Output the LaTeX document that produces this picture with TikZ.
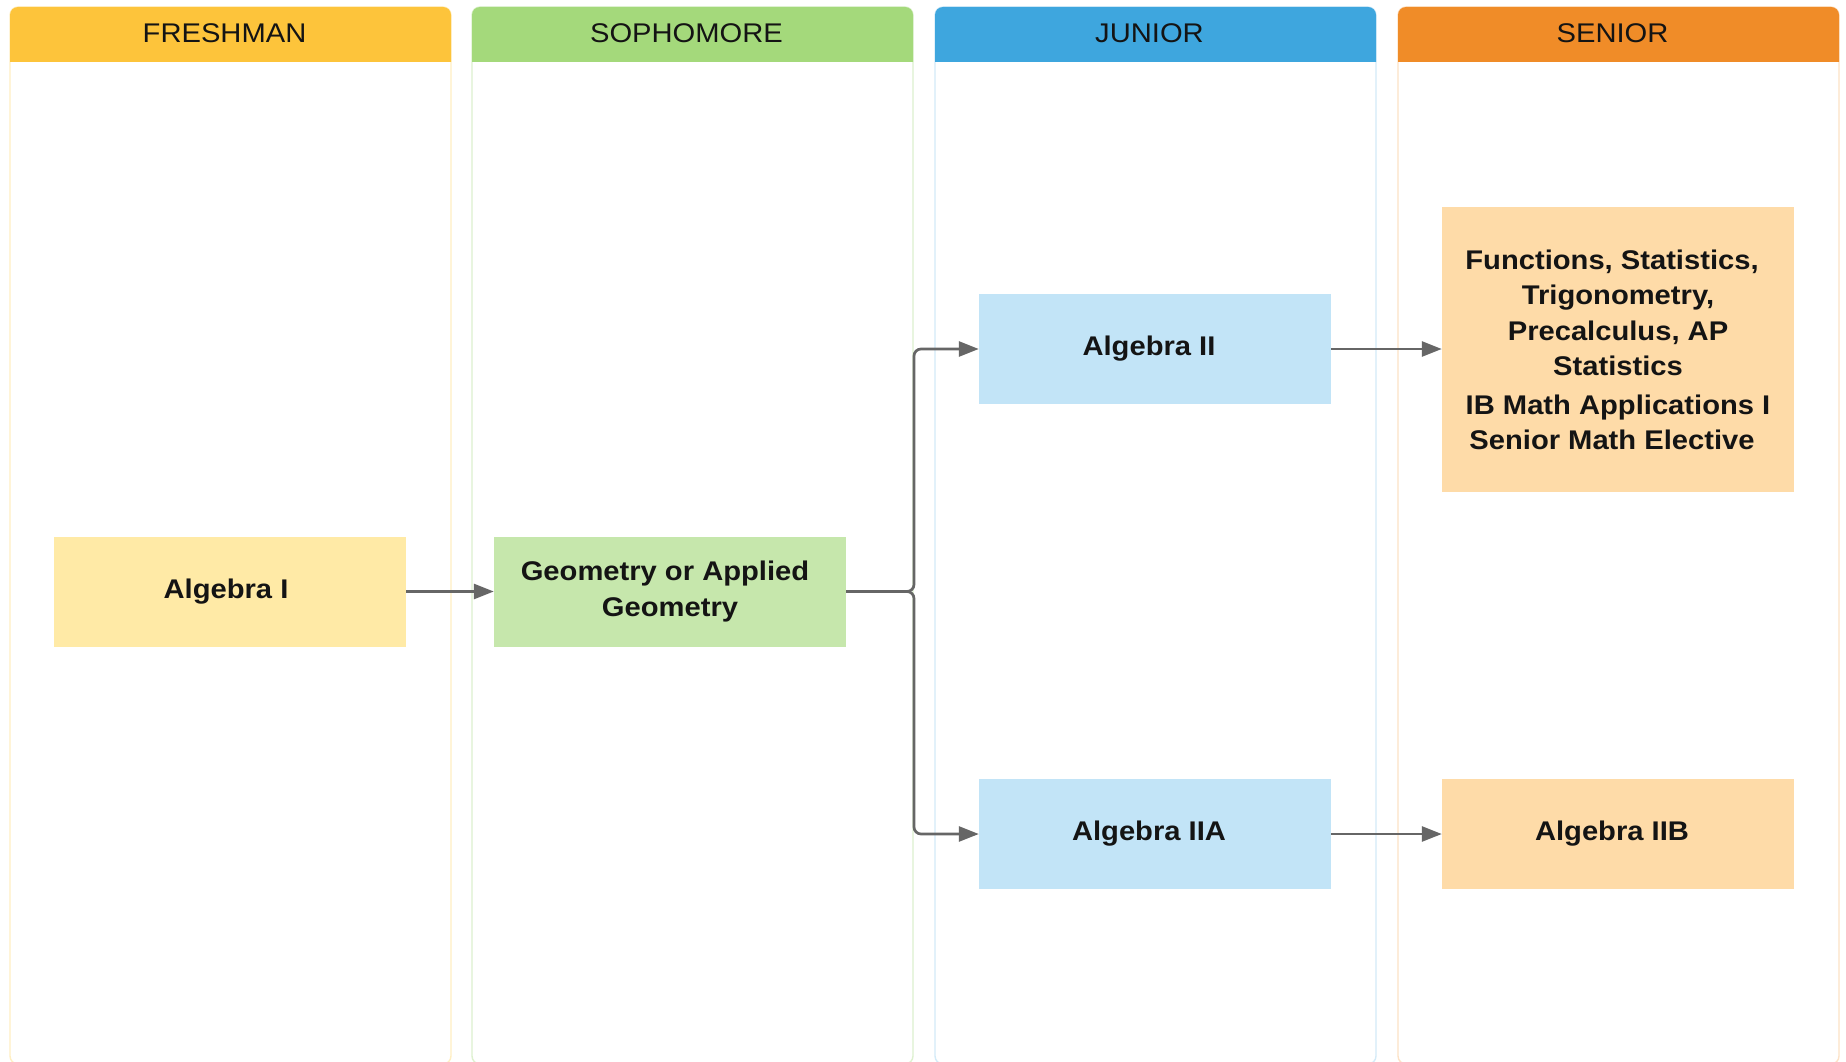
\documentclass[tikz,border=0pt]{standalone}
\usepackage{fontspec}
\setmainfont{Liberation Sans}[FakeStretch=1.08]
\usetikzlibrary{arrows.meta}
\definecolor{hdrF}{HTML}{FDC43B}
\definecolor{hdrS}{HTML}{A4D97B}
\definecolor{hdrJ}{HTML}{3EA6DE}
\definecolor{hdrN}{HTML}{F08C28}
\definecolor{lnF}{HTML}{FFEFC2}
\definecolor{lnS}{HTML}{DDF1CE}
\definecolor{lnJ}{HTML}{D3EBF8}
\definecolor{lnN}{HTML}{FDE2C6}
\definecolor{boxF}{HTML}{FFEAA6}
\definecolor{boxS}{HTML}{C6E7AC}
\definecolor{boxJ}{HTML}{C2E4F7}
\definecolor{boxN}{HTML}{FEDBA8}
\definecolor{arrowgray}{HTML}{666666}
\definecolor{txt}{HTML}{141414}
\tikzset{
  lanebox/.style={line width=1.4pt, rounded corners=8pt},
  hdrtxt/.style={font=\fontsize{27}{32}\selectfont, text=txt, inner sep=0pt,
    minimum width=441pt, minimum height=55pt},
  course/.style={font=\bfseries\fontsize{27}{35.5}\selectfont, text=txt,
    minimum width=352pt, minimum height=110pt, inner sep=0pt, align=center},
  arr/.style={draw=arrowgray, line width=2.7pt, -{Triangle[length=20pt,width=15pt]}},
}
\begin{document}
\begin{tikzpicture}[x=1pt,y=-1pt]
\useasboundingbox (0,0) rectangle (1846,1062);
\fill[white] (0,0) rectangle (1846,1062);
% lanes
\draw[lanebox, lnF] (10,7) rectangle (451,1064);
\draw[lanebox, lnS] (472,7) rectangle (913,1064);
\draw[lanebox, lnJ] (935,7) rectangle (1376,1064);
\draw[lanebox, lnN] (1398,7) rectangle (1839,1064);
% header bands
\fill[hdrF] (10,62) {[rounded corners=8pt] -- (10,7) -- (451,7)} -- (451,62) -- cycle;
\fill[hdrS] (472,62) {[rounded corners=8pt] -- (472,7) -- (913,7)} -- (913,62) -- cycle;
\fill[hdrJ] (935,62) {[rounded corners=8pt] -- (935,7) -- (1376,7)} -- (1376,62) -- cycle;
\fill[hdrN] (1398,62) {[rounded corners=8pt] -- (1398,7) -- (1839,7)} -- (1839,62) -- cycle;
\node[hdrtxt] (hF) at (230.5,33.5) {FRESHMAN\hspace*{12pt}};
\node[hdrtxt] (hS) at (692.5,33.5) {SOPHOMORE\hspace*{12pt}};
\node[hdrtxt] (hJ) at (1155.5,33.5) {JUNIOR\hspace*{12pt}};
\node[hdrtxt] (hN) at (1618.5,33.5) {SENIOR\hspace*{12pt}};
% courses
\node[course, fill=boxF] (alg1) at (230,591.5) {Algebra I\hspace*{8pt}};
\node[course, fill=boxS] (geo) at (670,591.5) {Geometry or Applied\hspace*{10pt}\\Geometry};
\node[course, fill=boxJ] (alg2) at (1155,349) {Algebra II\hspace*{12pt}};
\node[course, fill=boxJ] (alg2a) at (1155,834) {Algebra IIA\hspace*{12pt}};
\node[course, fill=boxN, minimum height=285pt] (sen) at (1618,349)
  {\rule{0pt}{21pt}Functions, Statistics,\hspace*{12pt}\\Trigonometry,\\Precalculus, AP\\Statistics\\[3pt]IB Math Applications I\hspace*{12pt}\\Senior Math Elective\hspace*{12pt}};
\node[course, fill=boxN] (alg2b) at (1618,834) {Algebra IIB\hspace*{12pt}};
% connectors
\coordinate (j) at (914,591.5);
\draw[arr] (alg1.east) -- (geo.west);
\draw[arr, rounded corners=7pt] (geo.east) -- (j) |- (alg2.west);
\draw[arr, rounded corners=7pt] (geo.east) -- (j) |- (alg2a.west);
\draw[arr] (alg2.east) -- (sen.west);
\draw[arr] (alg2a.east) -- (alg2b.west);
\end{tikzpicture}
\end{document}
